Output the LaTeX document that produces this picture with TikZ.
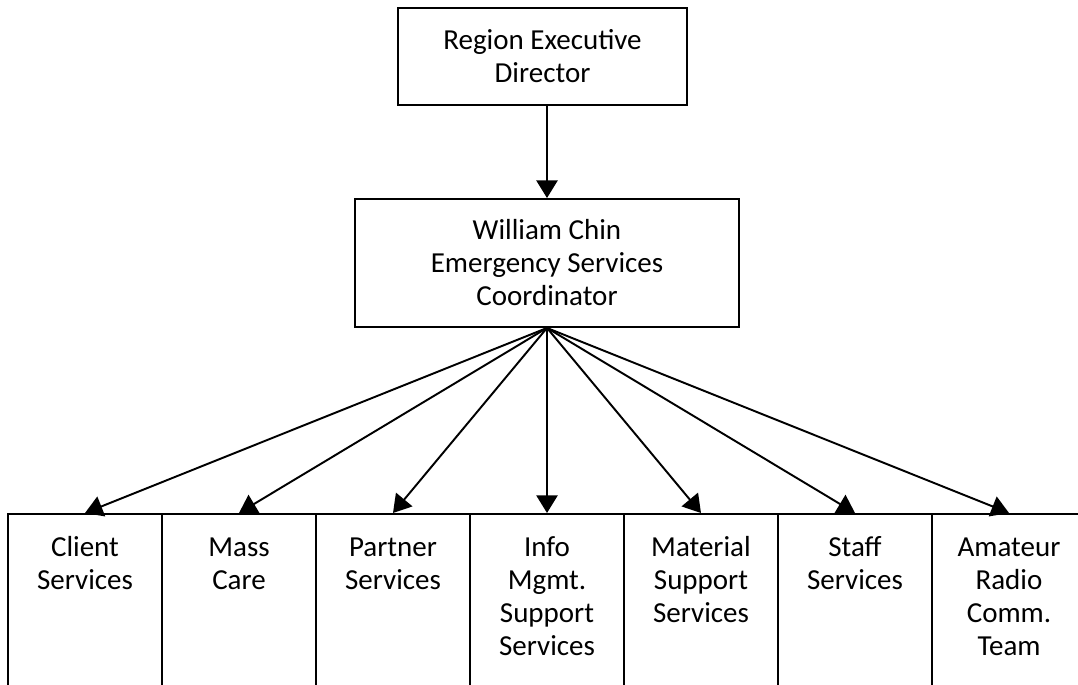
\documentclass[tikz,border=0pt]{standalone}
\usepackage{fontspec}
\setmainfont{Carlito}
\usetikzlibrary{arrows.meta}
\tikzset{
  box/.style = {draw, align=center, inner sep=0pt},
  unit/.style = {draw, anchor=north, minimum width=3.08cm, minimum height=4cm},
  unittext/.style = {anchor=north, align=center, inner sep=0pt, yshift=-10.8pt},
  arr/.style = {-{Triangle[width=12pt, length=10pt]}}
}

\begin{document}
\begin{tikzpicture}[x = 0.02cm, y = -0.02cm, line width = 1.1pt, font = \fontsize{16.5}{18.8}\selectfont]
\useasboundingbox (0,0) rectangle (1078,685);
\node[box, minimum width=5.78cm, minimum height=1.94cm] (red) at (542.5,56.5) {Region Executive\\Director};
\node[box, minimum width=7.68cm, minimum height=2.56cm] (esc) at (547,263) {William Chin\\Emergency Services\\Coordinator};
\draw[arr] (red.south -| esc.north) -- (esc.north);
% bottom row, cut off by the page edge
\node[unit] (cli) at (85,513) {};
\node[unit] (mas) at (239,513) {};
\node[unit] (par) at (393,513) {};
\node[unit] (inf) at (547,513) {};
\node[unit] (mat) at (701,513) {};
\node[unit] (sta) at (855,513) {};
\node[unit] (ama) at (1009,513) {};
\node[unittext] (cli-t) at (cli.north) {\strut Client\\Services};
\node[unittext] (mas-t) at (mas.north) {\strut Mass\\Care};
\node[unittext] (par-t) at (par.north) {\strut Partner\\Services};
\node[unittext] (inf-t) at (inf.north) {\strut Info\\Mgmt.\\Support\\Services};
\node[unittext] (mat-t) at (mat.north) {\strut Material\\Support\\Services};
\node[unittext] (sta-t) at (sta.north) {\strut Staff\\Services};
\node[unittext] (ama-t) at (ama.north) {\strut Amateur\\Radio\\Comm.\\Team};
\foreach \u in {cli, mas, par, inf, mat, sta, ama}
  \draw[arr] (esc.south) -- (\u.north);
\end{tikzpicture}
\end{document}
